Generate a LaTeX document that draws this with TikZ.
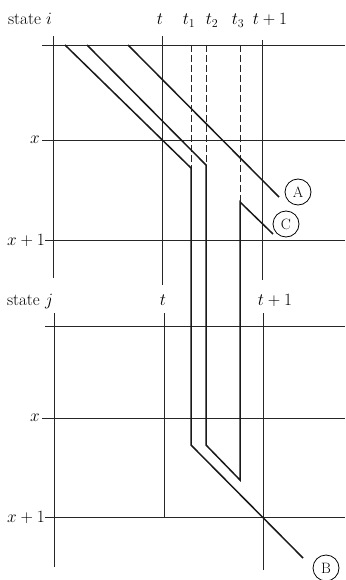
\documentclass[tikz,border=0pt]{standalone}
\begin{document}
\begin{tikzpicture}[x=1pt,y=-1pt,
  grid/.style={line width=0.9pt,black!85},
  gdash/.style={line width=0.9pt,black!85,dash pattern=on 7pt off 3pt},
  route/.style={line width=1.5pt,black!90},
  lab/.style={font=\fontsize{17}{20}\selectfont,inner sep=0pt},
  tag/.style={circle,draw,line width=0.8pt,minimum size=26pt,inner sep=0pt,font=\fontsize{15}{18}\selectfont}]
\useasboundingbox (0,0) rectangle (345,580);
% ---------- top panel ----------
\draw[grid] (42,45) -- (345,45);
\draw[grid] (42,140) -- (345,140);
\draw[grid] (45,240) -- (345,240);
\draw[grid] (53,36) -- (53,278);
\draw[grid] (162,36) -- (162,285);
\draw[grid] (262,40) -- (262,280);
\draw[gdash] (191,45) -- (191,168);
\draw[gdash] (206,45) -- (206,165);
\draw[gdash] (240,45) -- (240,202);
\node[lab,anchor=base] (si) at (30,25) {state $i$};
\node[lab,anchor=base] (lt) at (160,25) {$t$};
\node[lab,anchor=base] (lt1) at (189,25) {$t_1$};
\node[lab,anchor=base] (lt2) at (212,25) {$t_2$};
\node[lab,anchor=base] (lt3) at (238,25) {$t_3$};
\node[lab,anchor=base] (ltp) at (270,25) {$t+1$};
\node[lab,anchor=east] (lx) at (40,140) {$x$};
\node[lab,anchor=east] (lx1) at (45,240) {$x+1$};
% ---------- bottom panel ----------
\draw[grid] (45,326) -- (345,326);
\draw[grid] (42,418) -- (345,418);
\draw[grid] (45,517) -- (345,517);
\draw[grid] (54,313) -- (54,567);
\draw[grid] (164,313) -- (164,517);
\draw[grid] (263,313) -- (263,570);
\node[lab,anchor=base] (sj) at (30,305) {state $j$};
\node[lab,anchor=base] (bt) at (163,305) {$t$};
\node[lab,anchor=base] (btp) at (275,305) {$t+1$};
\node[lab,anchor=east] (bx) at (40,418) {$x$};
\node[lab,anchor=east] (bx1) at (45,517) {$x+1$};
% ---------- tags ----------
\node[tag] (A) at (298,192) {A};
\node[tag] (C) at (286,224) {C};
\node[tag] (B) at (326,568) {B};
% ---------- routes ----------
\coordinate (a0) at (128,45);
\coordinate (a1) at (279,197);
\draw[route] (a0) -- (a1);
\coordinate (b0) at (65,45);
\coordinate (b1) at (191,168);
\coordinate (b2) at (191,445);
\coordinate (b3) at (303,558);
\draw[route] (b0) -- (b1) -- (b2) -- (b3);
\coordinate (c0) at (87,45);
\coordinate (c1) at (206,165);
\coordinate (c2) at (206,445);
\coordinate (c3) at (240,480);
\coordinate (c4) at (240,202);
\coordinate (c5) at (273,234);
\draw[route] (c0) -- (c1) -- (c2) -- (c3) -- (c4) -- (c5);
\end{tikzpicture}
\end{document}
